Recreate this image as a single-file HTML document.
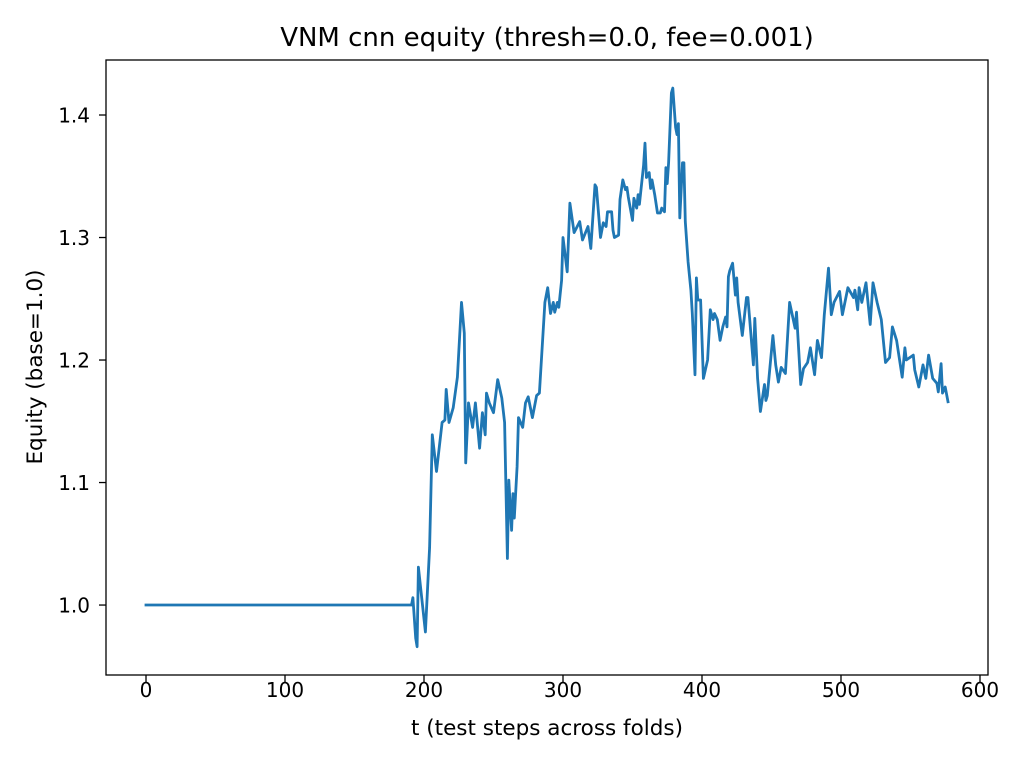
<!DOCTYPE html>
<html><head><meta charset="utf-8"><style>
html,body{margin:0;padding:0;background:#fff;}
svg text{font-family:"DejaVu Sans","Liberation Sans",sans-serif;fill:#000;}
</style></head><body>
<svg id="chart" width="1024" height="768" xmlns="http://www.w3.org/2000/svg">
<rect width="1024" height="768" fill="#fff"/>
<text x="547" y="46" font-size="26" text-anchor="middle">VNM cnn equity (thresh=0.0, fee=0.001)</text>
<text x="547" y="735" font-size="21.5" text-anchor="middle">t (test steps across folds)</text>
<text x="42" y="367" font-size="21.5" text-anchor="middle" transform="rotate(-90 42 367)">Equity (base=1.0)</text>
<g id="ticks"></g>
<path id="line" fill="none" stroke="#1f77b4" stroke-width="2.8" stroke-linejoin="round" stroke-linecap="square"/>
<rect x="106" y="60" width="882" height="615" fill="none" stroke="#000" stroke-width="1.3"/>
</svg>
<script>
const xTicks=[0,100,200,300,400,500,600];
const yTicks=[1.0,1.1,1.2,1.3,1.4];
const tVals=[0,191,192,194,195,196,201,204,206,209,213,215,216,218,221,224,227,229,230,232,235,237,240,242,244,245,247,250,253,256,258,260,261,263,264,265,267,268,271,273,275,278,281,283,287,289,291,293,294,296,297,299,300,303,305,308,312,314,318,320,323,324,327,329,331,332,335,336,337,340,341,343,345,346,347,350,351,353,354,355,358,359,360,362,363,364,366,368,370,371,373,374,375,376,378,379,381,382,383,384,386,387,388,390,392,393,395,396,397,399,401,404,406,408,409,411,413,415,417,418,419,420,422,424,425,426,429,432,433,437,438,440,442,445,446,447,451,453,455,457,460,463,467,468,471,473,476,478,481,483,486,488,491,493,495,499,501,505,509,510,512,513,515,518,521,523,526,529,532,535,537,540,544,546,547,552,553,556,559,561,563,566,569,570,572,573,575,577];
const equity=[1.0,1.0,1.006,0.973,0.966,1.031,0.978,1.047,1.139,1.109,1.149,1.151,1.176,1.149,1.161,1.186,1.247,1.222,1.116,1.165,1.145,1.165,1.128,1.157,1.139,1.173,1.165,1.157,1.184,1.169,1.149,1.038,1.102,1.061,1.091,1.071,1.113,1.153,1.145,1.165,1.170,1.153,1.171,1.173,1.247,1.259,1.238,1.247,1.239,1.247,1.243,1.265,1.300,1.272,1.328,1.304,1.313,1.298,1.309,1.291,1.343,1.341,1.300,1.312,1.309,1.321,1.321,1.306,1.300,1.302,1.331,1.347,1.339,1.341,1.333,1.314,1.332,1.324,1.335,1.327,1.359,1.377,1.349,1.353,1.340,1.347,1.335,1.320,1.320,1.324,1.321,1.357,1.344,1.361,1.418,1.422,1.390,1.384,1.393,1.316,1.361,1.361,1.313,1.280,1.257,1.238,1.188,1.267,1.249,1.249,1.185,1.200,1.241,1.233,1.238,1.233,1.216,1.227,1.235,1.227,1.268,1.273,1.279,1.253,1.267,1.247,1.220,1.251,1.251,1.196,1.234,1.185,1.158,1.180,1.167,1.171,1.220,1.196,1.182,1.194,1.189,1.247,1.226,1.239,1.180,1.193,1.198,1.210,1.188,1.216,1.202,1.237,1.275,1.237,1.247,1.256,1.237,1.259,1.251,1.257,1.241,1.259,1.247,1.263,1.229,1.263,1.247,1.233,1.198,1.202,1.227,1.216,1.186,1.210,1.200,1.204,1.192,1.178,1.196,1.185,1.204,1.185,1.181,1.174,1.197,1.173,1.178,1.166];
const X0=-28.78,X1=605.76,Y0=0.9429,Y1=1.4449;
const L=106,R=988,T=60,B=675;
function sx(t){return L+(t-X0)/(X1-X0)*(R-L);}
function sy(v){return B-(v-Y0)/(Y1-Y0)*(B-T);}
const NS="http://www.w3.org/2000/svg";
const g=document.getElementById('ticks');
function mk(tag,attrs){const e=document.createElementNS(NS,tag);for(const k in attrs)e.setAttribute(k,attrs[k]);return e;}
xTicks.forEach(t=>{
  const x=sx(t);
  const ln=mk('line',{x1:x,x2:x,y1:B,y2:B+7,stroke:'#000','stroke-width':1.3});
  
  
  g.appendChild(ln);
  const tx=mk('text',{x:x,y:B+22,'font-size':20,'text-anchor':'middle'});
  tx.textContent=String(t);
  
  
  g.appendChild(tx);
});
yTicks.forEach(v=>{
  const y=sy(v);
  const ln=mk('line',{x1:L-7,x2:L,y1:y,y2:y,stroke:'#000','stroke-width':1.3});
  
  
  g.appendChild(ln);
  const tx=mk('text',{x:L-16,y:y+7.3,'font-size':20,'text-anchor':'end'});
  tx.textContent=v.toFixed(1);
  
  
  g.appendChild(tx);
});
document.getElementById('line').setAttribute('d',tVals.map((t,i)=>(i?'L':'M')+sx(t).toFixed(1)+' '+sy(equity[i]).toFixed(1)).join(' '));
</script>
</body></html>
